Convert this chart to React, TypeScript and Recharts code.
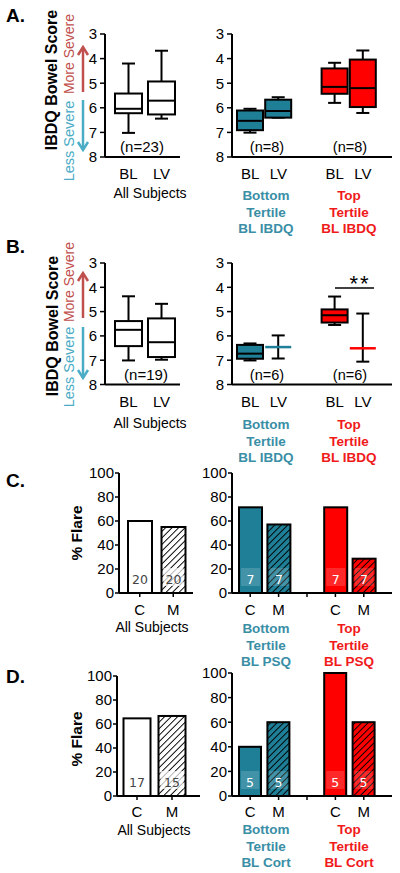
import { ComposedChart, BarChart, Bar, XAxis, YAxis } from 'recharts'

const TEAL = '#1e7f97'
const TEAL_TEXT = '#3a8ea6'
const RED = '#ff0000'
const RED_TEXT = '#f01a1a'
const MORE_COLOR = '#c0504d'
const LESS_COLOR = '#4bacc6'
const FONT = '"Liberation Sans", Arial, Helvetica, sans-serif'

// categories
const allBox = ['BL', 'LV']
const tertBox = ['BL', 'LV', '', 'BL', 'LV']
const allBar = ['C', 'M']
const tertBar = ['C', 'M', '', 'C', 'M']
const allGroups = ['all', 'all']
const tertGroups = ['bottom', 'bottom', '', 'top', 'top']
const scoreTicks = [3, 4, 5, 6, 7, 8]
const flareTicks = [0, 20, 40, 60, 80, 100]

// box stats: [upper whisker, box top, median, box bottom, lower whisker] in score units
const aAll = [
  [4.2, 5.42, 6.04, 6.22, 7.02],
  [3.68, 4.93, 5.71, 6.27, 6.44],
]
const aTert = [
  [6.04, 6.11, 6.53, 6.91, 7.01],
  [5.57, 5.67, 6.13, 6.4, 6.4],
  null,
  [4.17, 4.4, 5.15, 5.43, 5.8],
  [3.67, 4.04, 5.2, 5.97, 6.21],
]
const bAll = [
  [4.37, 5.39, 5.75, 6.42, 7.01],
  [4.68, 5.28, 6.26, 6.87, 6.98],
]
const bTert = [
  [6.31, 6.37, 6.73, 6.94, 7.01],
  [5.98, 6.46, 6.46, 6.46, 6.93],
  null,
  [4.38, 4.91, 5.15, 5.45, 5.55],
  [5.08, 6.51, 6.51, 6.51, 7.06],
]

// % flare and group sizes
const cAllPct = [60, 55]
const cAllN = [20, 20]
const cTertPct = [71.4, 57.1, null, 71.4, 28.6]
const cTertN = [7, 7, null, 7, 7]
const dAllPct = [64.7, 66.7]
const dAllN = [17, 15]
const dTertPct = [40, 60, null, 100, 60]
const dTertN = [5, 5, null, 5, 5]

const YW = 50
const MT = 12
const MR = 6
const XH = 36

const frame = (x0: number, y0: number, x1: number, y1: number) => ({
  left: x0 - YW,
  top: y0 - MT,
  width: YW + (x1 - x0) + MR,
  height: MT + (y1 - y0) + XH,
})

const groupColor = (g: string) => (g === 'top' ? RED : g === 'bottom' ? TEAL : '#fff')

const axisLine = { stroke: '#000', strokeWidth: 2 }
const tickStyle = { fill: '#000', fontSize: 15, fontFamily: FONT }

const BoxShape = (props: any) => {
  const { x, y, width, height, payload } = props
  const s = payload && payload.s
  if (!s) return null
  const top = Math.min(y, y + height)
  const bot = Math.max(y, y + height)
  const py = (v: number) => top + ((v - s[0]) / (s[4] - s[0])) * (bot - top)
  const cx = x + width / 2
  const cap = 6.5
  const color = groupColor(payload.group)
  const flat = s[1] === s[3]
  return (
    <g>
      <line x1={cx} x2={cx} y1={py(s[0])} y2={py(s[4])} stroke="#000" strokeWidth={2} />
      <line x1={cx - cap} x2={cx + cap} y1={py(s[0])} y2={py(s[0])} stroke="#000" strokeWidth={2} />
      <line x1={cx - cap} x2={cx + cap} y1={py(s[4])} y2={py(s[4])} stroke="#000" strokeWidth={2} />
      {flat ? (
        <line x1={x} x2={x + width} y1={py(s[2])} y2={py(s[2])} stroke={color} strokeWidth={2.5} />
      ) : (
        <g>
          <rect x={x} y={py(s[1])} width={width} height={py(s[3]) - py(s[1])} fill={color} stroke="#000" strokeWidth={2} />
          <line x1={x} x2={x + width} y1={py(s[2])} y2={py(s[2])} stroke="#000" strokeWidth={2} />
        </g>
      )}
    </g>
  )
}

const FlareShape = (props: any) => {
  const { x, y, width, height, payload } = props
  if (!payload || payload.pct == null) return null
  const fill = payload.slot === 'M' ? `url(#hatch-${payload.group})` : groupColor(payload.group)
  const b = y + height
  const onWhite = payload.group === 'all'
  return (
    <g>
      <rect x={x} y={y} width={width} height={height} fill={fill} stroke="#000" strokeWidth={2} />
      <rect x={x + 2} y={b - 25} width={width - 4} height={18} fill="#fff" fillOpacity={onWhite ? 0.7 : 0.16} />
      <text x={x + width / 2} y={b - 9.5} textAnchor="middle" fontSize={12.5} fontFamily="DejaVu Sans" fill={onWhite ? '#444' : '#fff'}>
        {payload.n}
      </text>
    </g>
  )
}

interface ScoreProps {
  plot: [number, number, number, number]
  slots: string[]
  groups: string[]
  stats: (number[] | null)[]
  pad: { left: number; right: number }
  boxW: number
}

const ScorePanel = ({ plot, slots, groups, stats, pad, boxW }: ScoreProps) => {
  const f = frame(...plot)
  const data = slots.map((slot, i) => ({ slot, group: groups[i], s: stats[i] }))
  return (
    <div style={{ position: 'absolute', left: f.left, top: f.top }}>
      <ComposedChart width={f.width} height={f.height} data={data} margin={{ top: MT, right: MR, left: 0, bottom: 0 }}>
        <XAxis dataKey="slot" height={XH} padding={pad} axisLine={axisLine} tickLine={false} tickSize={6} tickMargin={5.5} tick={tickStyle} interval={0} />
        <YAxis
          width={YW}
          type="number"
          domain={[3, 8]}
          reversed
          ticks={scoreTicks}
          interval={0}
          axisLine={axisLine}
          tickLine={{ stroke: '#000', strokeWidth: 1.5 }}
          tickSize={5}
          tickMargin={3}
          tick={tickStyle}
        />
        <Bar dataKey={(d: any) => (d.s ? [d.s[0], d.s[4]] : null)} barSize={boxW} isAnimationActive={false} shape={<BoxShape />} />
      </ComposedChart>
    </div>
  )
}

interface FlareProps {
  plot: [number, number, number, number]
  slots: string[]
  groups: string[]
  pct: (number | null)[]
  n: (number | null)[]
  pad: { left: number; right: number }
  barW: number
  gap: number
}

const FlarePanel = ({ plot, slots, groups, pct, n, pad, barW, gap }: FlareProps) => {
  const f = frame(...plot)
  const data = slots.map((slot, i) => ({ slot, group: groups[i], pct: pct[i], n: n[i] }))
  return (
    <div style={{ position: 'absolute', left: f.left, top: f.top }}>
      <BarChart width={f.width} height={f.height} data={data} margin={{ top: MT, right: MR, left: 0, bottom: 0 }}>
        <XAxis dataKey="slot" height={XH} padding={pad} axisLine={axisLine} tickLine={{ stroke: '#000', strokeWidth: 1.5 }} tickSize={4} tickMargin={gap} tick={tickStyle} interval={0} />
        <YAxis
          width={YW}
          type="number"
          domain={[0, 100]}
          ticks={flareTicks}
          interval={0}
          axisLine={axisLine}
          tickLine={{ stroke: '#000', strokeWidth: 1.5 }}
          tickSize={4}
          tickMargin={1}
          tick={tickStyle}
        />
        <Bar dataKey="pct" barSize={barW} isAnimationActive={false} shape={<FlareShape />} />
      </BarChart>
    </div>
  )
}

const Hatch = ({ id, bg }: { id: string; bg: string }) => (
  <pattern id={id} patternUnits="userSpaceOnUse" width={4.6} height={4.6} patternTransform="rotate(45)">
    <rect width={4.6} height={4.6} fill={bg} />
    <line x1={0} y1={0} x2={0} y2={4.6} stroke="#000" strokeWidth={1.9} />
  </pattern>
)

const Arrow = ({ x, from, to, color }: { x: number; from: number; to: number; color: string }) => {
  const d = to < from ? 1 : -1
  return (
    <g stroke={color} strokeWidth={2.5} fill="none">
      <line x1={x} x2={x} y1={from} y2={to} />
      <polyline points={`${x - 5},${to + d * 8} ${x},${to} ${x + 5},${to + d * 8}`} />
    </g>
  )
}

const VText = ({ x, y, size, bold, color, children }: any) => (
  <text transform={`translate(${x},${y}) rotate(-90)`} textAnchor="middle" fontSize={size} fontWeight={bold ? 700 : 400} fill={color}>
    {children}
  </text>
)

const GroupLabel = ({ x, y, color, lines }: { x: number; y: number; color: string; lines: string[] }) => (
  <g>
    {lines.map((l, i) => (
      <text key={i} x={x} y={y + i * 16.5} textAnchor="middle" fontSize={13.5} fontWeight={700} fill={color}>
        {l}
      </text>
    ))}
  </g>
)

const Overlay = () => (
  <svg width={400} height={873} style={{ position: 'absolute', left: 0, top: 0, pointerEvents: 'none', fontFamily: FONT }}>
    <text x={6} y={22} fontSize={19} fontWeight={700}>A.</text>
    <text x={6} y={253} fontSize={19} fontWeight={700}>B.</text>
    <text x={6} y={487} fontSize={19} fontWeight={700}>C.</text>
    <text x={6} y={683} fontSize={19} fontWeight={700}>D.</text>

    <VText x={57} y={80} size={16} bold color="#000">IBDQ Bowel Score</VText>
    <VText x={74} y={54} size={14} color={MORE_COLOR}>More Severe</VText>
    <VText x={74} y={141} size={14.5} color={LESS_COLOR}>Less Severe</VText>
    <Arrow x={83} from={92} to={47} color={MORE_COLOR} />
    <Arrow x={83} from={100} to={150} color={LESS_COLOR} />

    <VText x={58} y={326} size={16} bold color="#000">IBDQ Bowel Score</VText>
    <VText x={74} y={282} size={14} color={MORE_COLOR}>More Severe</VText>
    <VText x={74} y={367} size={14.5} color={LESS_COLOR}>Less Severe</VText>
    <Arrow x={83} from={318} to={273} color={MORE_COLOR} />
    <Arrow x={83} from={327} to={378} color={LESS_COLOR} />

    <VText x={82} y={533} size={15.5} bold color="#000">% Flare</VText>
    <VText x={82} y={739} size={15.5} bold color="#000">% Flare</VText>

    <text x={142} y={152} textAnchor="middle" fontSize={15}>(n=23)</text>
    <text x={267} y={152} textAnchor="middle" fontSize={14.5}>(n=8)</text>
    <text x={350} y={152} textAnchor="middle" fontSize={14.5}>(n=8)</text>
    <text x={146} y={380} textAnchor="middle" fontSize={15}>(n=19)</text>
    <text x={267} y={380} textAnchor="middle" fontSize={14.5}>(n=6)</text>
    <text x={350} y={380} textAnchor="middle" fontSize={14.5}>(n=6)</text>

    <line x1={335} x2={374} y1={288} y2={288} stroke="#000" strokeWidth={1.5} />
    <text x={360} y={291} textAnchor="middle" fontSize={22} letterSpacing={2}>**</text>

    <text x={150} y={198} textAnchor="middle" fontSize={14}>All Subjects</text>
    <text x={150} y={428} textAnchor="middle" fontSize={14}>All Subjects</text>
    <text x={152} y={632} textAnchor="middle" fontSize={14}>All Subjects</text>
    <text x={154} y={835} textAnchor="middle" fontSize={14}>All Subjects</text>

    <GroupLabel x={266} y={200} color={TEAL_TEXT} lines={['Bottom', 'Tertile', 'BL IBDQ']} />
    <GroupLabel x={349} y={200} color={RED_TEXT} lines={['Top', 'Tertile', 'BL IBDQ']} />
    <GroupLabel x={266} y={429} color={TEAL_TEXT} lines={['Bottom', 'Tertile', 'BL IBDQ']} />
    <GroupLabel x={349} y={429} color={RED_TEXT} lines={['Top', 'Tertile', 'BL IBDQ']} />
    <GroupLabel x={266} y={633} color={TEAL_TEXT} lines={['Bottom', 'Tertile', 'BL PSQ']} />
    <GroupLabel x={349} y={633} color={RED_TEXT} lines={['Top', 'Tertile', 'BL PSQ']} />
    <GroupLabel x={266} y={834} color={TEAL_TEXT} lines={['Bottom', 'Tertile', 'BL Cort']} />
    <GroupLabel x={349} y={834} color={RED_TEXT} lines={['Top', 'Tertile', 'BL Cort']} />
  </svg>
)

const App = () => {
  return (
    <div style={{ position: 'absolute', left: 0, top: 0, width: 400, height: 873, background: '#fff', fontFamily: FONT, overflow: 'hidden' }}>
      <svg width={0} height={0} style={{ position: 'absolute' }}>
        <defs>
          <Hatch id="hatch-all" bg="#fff" />
          <Hatch id="hatch-bottom" bg={TEAL} />
          <Hatch id="hatch-top" bg={RED} />
        </defs>
      </svg>

      <ScorePanel plot={[105, 34, 180, 157]} slots={allBox} groups={allGroups} stats={aAll} pad={{ left: 7, right: 2 }} boxW={27} />
      <ScorePanel plot={[232, 34, 392, 157]} slots={tertBox} groups={tertGroups} stats={aTert} pad={{ left: 4, right: 15 }} boxW={26} />
      <ScorePanel plot={[105, 262.5, 180, 384]} slots={allBox} groups={allGroups} stats={bAll} pad={{ left: 7, right: 2 }} boxW={27} />
      <ScorePanel plot={[232, 262.5, 392, 384]} slots={tertBox} groups={tertGroups} stats={bTert} pad={{ left: 4, right: 15 }} boxW={26} />

      <FlarePanel plot={[119, 473, 193, 593]} slots={allBar} groups={allGroups} pct={cAllPct} n={cAllN} pad={{ left: 4, right: 3 }} barW={24} gap={7} />
      <FlarePanel plot={[232, 473, 392, 593]} slots={tertBar} groups={tertGroups} pct={cTertPct} n={cTertN} pad={{ left: 4, right: 14 }} barW={23} gap={7} />
      <FlarePanel plot={[117, 676, 200, 796]} slots={allBar} groups={allGroups} pct={dAllPct} n={dAllN} pad={{ left: 2.5, right: 10.5 }} barW={27} gap={6} />
      <FlarePanel plot={[232, 673, 392, 796]} slots={tertBar} groups={tertGroups} pct={dTertPct} n={dTertN} pad={{ left: 4, right: 14 }} barW={22} gap={6} />

      <Overlay />
    </div>
  )
}

export default App
